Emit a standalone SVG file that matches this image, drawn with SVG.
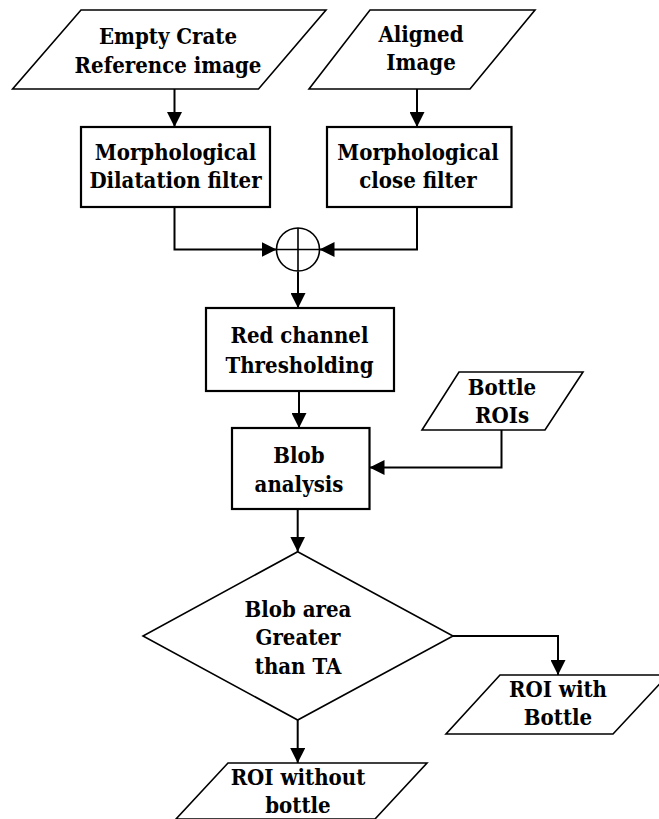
<svg xmlns="http://www.w3.org/2000/svg" width="659" height="819" viewBox="0 0 659 819">
  <style>
    .shape { fill: #fff; stroke: #000; stroke-width: 1.6; }
    .box { fill: #fff; stroke: #000; stroke-width: 2.2; }
    .wire { fill: none; stroke: #000; stroke-width: 2; }
    .label { font-family: 'DejaVu Serif', serif; font-stretch: condensed; font-weight: bold; font-size: 22px; fill: #000; text-anchor: middle; }
  </style>
  <defs>
    <marker id="arrow" viewBox="0 0 15 15" refX="15" refY="7.5" markerWidth="15" markerHeight="15" markerUnits="userSpaceOnUse" orient="auto">
      <path d="M0,0 L15,7.5 L0,15 Z" fill="#000"/>
    </marker>
  </defs>
  <rect width="659" height="819" fill="#fff"/>

  <g id="connectors">
    <path class="wire" d="M174.5,89 V127" marker-end="url(#arrow)"/>
    <path class="wire" d="M417,89 V127" marker-end="url(#arrow)"/>
    <path class="wire" d="M174.5,207 V249.5 H276.5" marker-end="url(#arrow)"/>
    <path class="wire" d="M417,207 V249.5 H319.5" marker-end="url(#arrow)"/>
    <path class="wire" d="M298,271.5 V308" marker-end="url(#arrow)"/>
    <path class="wire" d="M299,391 V428" marker-end="url(#arrow)"/>
    <path class="wire" d="M501.5,430 V467.5 H369.5" marker-end="url(#arrow)"/>
    <path class="wire" d="M297.7,509 V551.7" marker-end="url(#arrow)"/>
    <path class="wire" d="M453,636 H558 V675" marker-end="url(#arrow)"/>
    <path class="wire" d="M297.7,720 V763" marker-end="url(#arrow)"/>
  </g>

  <g id="empty-crate">
    <polygon class="shape" points="81,10 326,10 258.5,89 12.6,89"/>
    <text class="label" x="168" y="44">Empty Crate</text>
    <text class="label" x="168" y="73">Reference image</text>
  </g>

  <g id="aligned-image">
    <polygon class="shape" points="370,10 535,10 470,89 309,89"/>
    <text class="label" x="421" y="42">Aligned</text>
    <text class="label" x="421" y="70">Image</text>
  </g>

  <g id="dilatation-filter">
    <rect class="box" x="81" y="127" width="189" height="80"/>
    <text class="label" x="175.5" y="160">Morphological</text>
    <text class="label" x="175.5" y="188">Dilatation filter</text>
  </g>

  <g id="close-filter">
    <rect class="box" x="327" y="127" width="184.5" height="80"/>
    <text class="label" x="418" y="160">Morphological</text>
    <text class="label" x="418" y="188">close filter</text>
  </g>

  <g id="sum">
    <circle class="shape" cx="298" cy="249.5" r="21.5"/>
    <path class="shape" d="M298,228 V271 M276.5,249.5 H319.5"/>
  </g>

  <g id="thresholding">
    <rect class="box" x="206" y="308" width="188" height="83"/>
    <text class="label" x="299.5" y="343">Red channel</text>
    <text class="label" x="299.5" y="373">Thresholding</text>
  </g>

  <g id="bottle-rois">
    <polygon class="shape" points="459,372 583,372 545,430 422,430"/>
    <text class="label" x="502" y="395">Bottle</text>
    <text class="label" x="502" y="423">ROIs</text>
  </g>

  <g id="blob-analysis">
    <rect class="box" x="232" y="428" width="137.5" height="81"/>
    <text class="label" x="299" y="463">Blob</text>
    <text class="label" x="299" y="492">analysis</text>
  </g>

  <g id="area-check">
    <polygon class="shape" points="297.7,551.7 453,636 297.7,720 143,636"/>
    <text class="label" x="298" y="617">Blob area</text>
    <text class="label" x="298" y="645">Greater</text>
    <text class="label" x="298" y="674">than TA</text>
  </g>

  <g id="roi-with-bottle">
    <polygon class="shape" points="500,675 668,675 613,734 446,734"/>
    <text class="label" x="558" y="697">ROI with</text>
    <text class="label" x="558" y="725">Bottle</text>
  </g>

  <g id="roi-without-bottle">
    <polygon class="shape" points="228,763 427,763 375,819 176,819"/>
    <text class="label" x="298" y="785">ROI without</text>
    <text class="label" x="298" y="813">bottle</text>
  </g>
</svg>
